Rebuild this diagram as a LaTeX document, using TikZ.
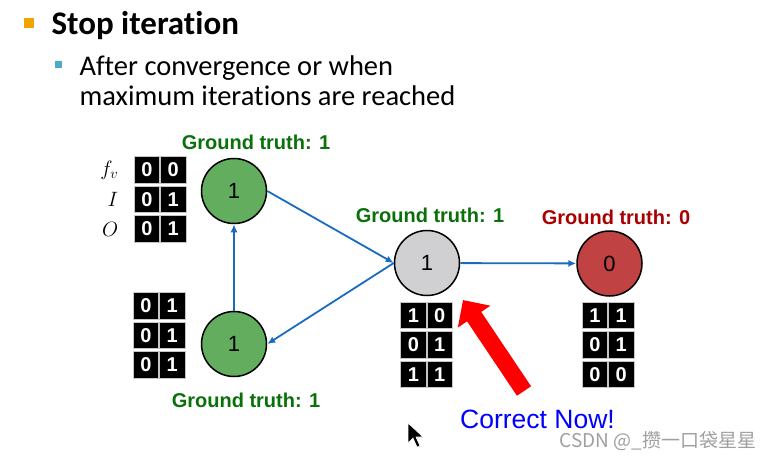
\documentclass[tikz,border=0pt]{standalone}
\usepackage{fontspec}
\setmainfont{Carlito}[Ligatures=CommonOff]
\newfontfamily\arialfont{Liberation Sans}
\newfontfamily\cjkfont{Noto Sans CJK SC}
\usetikzlibrary{arrows.meta,positioning}
\definecolor{bulletorange}{HTML}{F0A400}
\definecolor{bulletteal}{HTML}{4BACC6}
\definecolor{nodegreen}{HTML}{63AD5F}
\definecolor{nodegray}{HTML}{D0D0D2}
\definecolor{nodered}{HTML}{C04242}
\definecolor{truthgreen}{HTML}{0A700A}
\definecolor{truthred}{HTML}{A80000}
\definecolor{edgeblue}{HTML}{1A6BBF}

\begin{document}
\begin{tikzpicture}[x=1pt, y=-1pt, node distance=6pt, font=\arialfont]
\tikzstyle{var} = [circle, draw, line width=1.5pt, minimum size=65pt, inner sep=0pt, font=\arialfont\fontsize{22}{22}\selectfont]
\tikzstyle{truth} = [font=\arialfont\bfseries\fontsize{20}{20}\selectfont]
\tikzstyle{bit} = [fill=black, draw=gray!45, line width=0.8pt, text=white, minimum width=25.5pt, minimum height=26.5pt, inner sep=0pt, font=\arialfont\bfseries\fontsize{20}{20}\selectfont]
\tikzstyle{arrow} = [-{Latex[length=8pt,width=7pt]}, line width=1.8pt, edgeblue]
\tikzstyle{bullet} = [inner sep=0pt]
\useasboundingbox (0,0) rectangle (774,460);

% heading
\node[bullet, fill=bulletorange, minimum size=10pt] (b1) at (29,23) {};
\node[anchor=base west, font=\bfseries\fontsize{33}{33}\selectfont] (title) at (48,35) {Stop iteration};
\node[bullet, fill=bulletteal, minimum size=7pt] (b2) at (58.5,64.5) {};
\node[anchor=base west, font=\fontsize{28.5}{30}\selectfont] (sub1) at (76,76) {After convergence or when};
\node[anchor=base west, font=\fontsize{28.5}{30}\selectfont] (sub2) at ([yshift=-30pt]sub1.base west) {maximum iterations are reached};

% nodes
\node[var, fill=nodegreen] (tl) at (234,191) {1};
\node[var, fill=nodegreen] (bl) at (234,344) {1};
\node[var, fill=nodegray] (mid) at (427,263) {1};
\node[var, fill=nodered] (rt) at (609.5,263.5) {0};

\node[truth, text=truthgreen] (tl-gt) at (256,142.5) {Ground truth: 1};
\node[truth, text=truthgreen] (bl-gt) at (246,400.5) {Ground truth: 1};
\node[truth, text=truthgreen] (mid-gt) at (430,215.5) {Ground truth: 1};
\node[truth, text=truthred] (rt-gt) at (616,217.5) {Ground truth: 0};

% bit vectors
\foreach \m/\x/\y/\bits in {tl/147/170/{0/0,0/1,0/1}, bl/146/306/{0/1,0/1,0/1},
    mid/413.5/315.5/{1/0,0/1,1/1}, rt/595/315.5/{1/1,0/1,0/0}} {
  \foreach \a/\b [count=\r] in \bits {
    \node[bit] (\m-\r-a) at (\x,{\y+29.5*(\r-1)}) {\a};
    \node[bit, right=0pt of \m-\r-a] (\m-\r-b) {\b};
  }
}
\node[left=12pt of tl-1-a, font=\fontsize{21}{21}\selectfont] (fv) {$f_v$};
\node[left=12pt of tl-2-a, font=\fontsize{21}{21}\selectfont] (in) {$I$};
\node[left=12pt of tl-3-a, font=\fontsize{21}{21}\selectfont] (out) {$O$};

% messages
\draw[arrow] (bl) -- (tl);
\draw[arrow] (tl.east) -- (mid.west);
\draw[arrow] (mid.west) -- (bl.east);
\draw[arrow] (mid) -- (rt);

% pointer
\coordinate (redtail) at (524,391);
\coordinate (redtip) at (463,300);
\draw[red, line width=17pt, -{Triangle[length=20pt,width=38pt]}] (redtail) -- (redtip);
\node[text=blue, font=\arialfont\fontsize{26.5}{26.5}\selectfont] (now) at (537.5,419) {Correct Now!};

% cursor
\fill[black, draw=white, line width=0.6pt] (408,423) -- (408,443) -- (413,438) -- (417,447)
  -- (420,446) -- (416,437) -- (423,437) -- cycle;
\node[text=gray!75, font=\cjkfont\fontsize{19}{19}\selectfont] (mark) at (658,441) {CSDN @\_攒一口袋星星};
\end{tikzpicture}
\end{document}
